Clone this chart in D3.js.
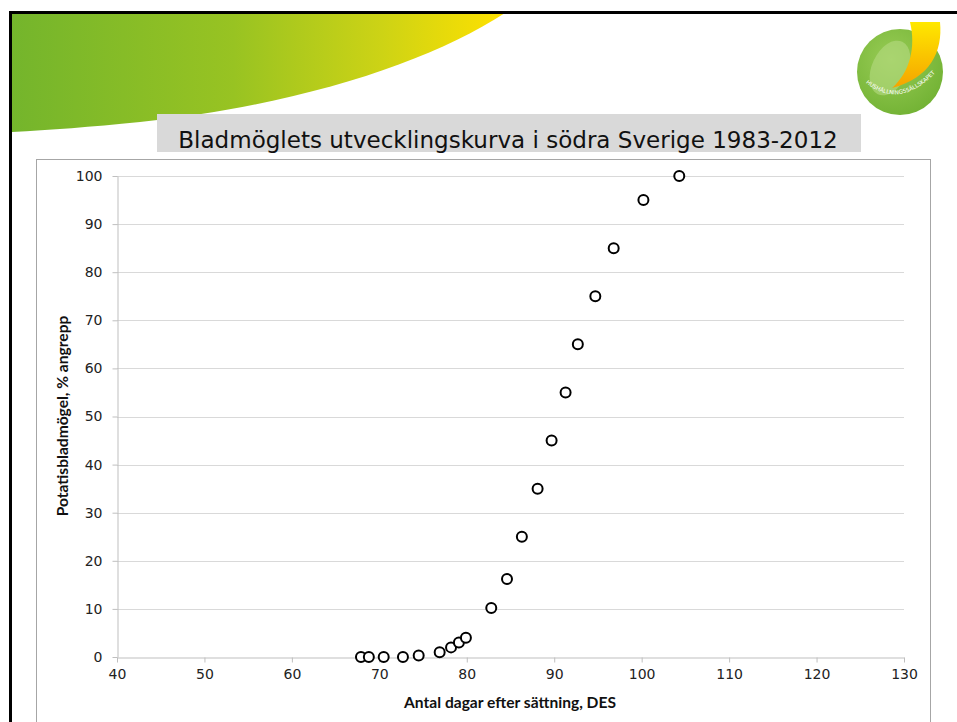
<!DOCTYPE html>
<html>
<head>
<meta charset="utf-8">
<script src="https://cdn.jsdelivr.net/npm/d3@7"></script>
<style>
  html, body { margin: 0; padding: 0; background: #fff; }
  svg { display: block; }
</style>
</head>
<body>
<script>
// ---- data ----
const chartTitle = "Bladmöglets utvecklingskurva i södra Sverige 1983-2012";
const xTitle = "Antal dagar efter sättning, DES";
const yTitle = "Potatisbladmögel, % angrepp";
const daysAfterPlanting = [67.9, 68.8, 70.5, 72.7, 74.5, 76.9, 78.2, 79.1, 79.9, 82.8, 84.6, 86.3, 88.1, 89.7, 91.3, 92.7, 94.7, 96.8, 100.2, 104.3];
const attackPercent =     [0,    0,    0,    0,    0.3,  1,    2,    3,    4,    10.2, 16.2, 25,   35,   45,   55,   65,   75,   85,   95,   100];
const xTicks = [40, 50, 60, 70, 80, 90, 100, 110, 120, 130];
const yTicks = [0, 10, 20, 30, 40, 50, 60, 70, 80, 90, 100];
const logoText = "HUSHÅLLNINGSSÄLLSKAPET";

const W = 957, H = 722;
const svg = d3.select("body").append("svg").attr("width", W).attr("height", H);
const defs = svg.append("defs");

// ---- slide decoration ----
const g1 = defs.append("linearGradient").attr("id", "swoosh").attr("x1", "0%").attr("x2", "100%").attr("y1", "0%").attr("y2", "0%");
g1.append("stop").attr("offset", "0%").attr("stop-color", "#74b52c");
g1.append("stop").attr("offset", "45%").attr("stop-color", "#98c322");
g1.append("stop").attr("offset", "75%").attr("stop-color", "#cdd315");
g1.append("stop").attr("offset", "100%").attr("stop-color", "#ffe100");

svg.append("path")
  .attr("d", "M12,13 L505,13 C430,62 300,105 140,122 C90,127 50,130 12,132 Z")
  .attr("fill", "url(#swoosh)");

// black frame
svg.append("line").attr("x1", 9).attr("x2", W).attr("y1", 12.5).attr("y2", 12.5).attr("stroke", "#000").attr("stroke-width", 3);
svg.append("line").attr("x1", 10.5).attr("x2", 10.5).attr("y1", 11).attr("y2", H).attr("stroke", "#000").attr("stroke-width", 3);

// logo
const lg = defs.append("radialGradient").attr("id", "logoG").attr("cx", "40%").attr("cy", "35%").attr("r", "70%");
lg.append("stop").attr("offset", "0%").attr("stop-color", "#98cc55");
lg.append("stop").attr("offset", "100%").attr("stop-color", "#72b234");
const yl = defs.append("linearGradient").attr("id", "logoY").attr("x1", "0%").attr("x2", "0%").attr("y1", "0%").attr("y2", "100%");
yl.append("stop").attr("offset", "0%").attr("stop-color", "#ffe800");
yl.append("stop").attr("offset", "100%").attr("stop-color", "#f5a300");
const logo = svg.append("g").attr("transform", "translate(900,72)");
logo.append("circle").attr("r", 43).attr("fill", "url(#logoG)");
logo.append("ellipse").attr("cx", -10).attr("cy", -4).attr("rx", 18).attr("ry", 29)
  .attr("transform", "rotate(25,-10,-4)").attr("fill", "#b6db82").attr("opacity", 0.6);
logo.append("path")
  .attr("d", "M10,-50 L40,-50 C43,-20 30,6 -8,16 C10,0 16,-25 10,-50 Z")
  .attr("fill", "url(#logoY)");
defs.append("path").attr("id", "logoArc").attr("d", "M-35,10 Q0,40 39,-3");
logo.append("text").attr("font-family", "DejaVu Sans").attr("font-size", 5.6).attr("fill", "#fff")
  .append("textPath").attr("href", "#logoArc").attr("startOffset", "1%").text(logoText);

// title bar
svg.append("rect").attr("x", 157).attr("y", 114).attr("width", 704).attr("height", 38).attr("fill", "#d9d9d9");
const titleT = svg.append("text").attr("x", 508).attr("y", 141)
  .attr("text-anchor", "middle").attr("dominant-baseline", "middle")
  .attr("font-family", "DejaVu Sans").attr("font-size", 22).attr("fill", "#111").text(chartTitle);
{
  const w = titleT.node().getComputedTextLength();
  titleT.attr("font-size", 22 * 660 / w);
}

// chart border
svg.append("rect").attr("x", 36.5).attr("y", 159.5).attr("width", 894).attr("height", 600)
  .attr("fill", "none").attr("stroke", "#a6a6a6").attr("stroke-width", 1);

// ---- chart ----
const x = d3.scaleLinear().domain([40, 130]).range([117, 904]);
const y = d3.scaleLinear().domain([0, 100]).range([657, 176]);

// gridlines
svg.append("g").selectAll("line").data(yTicks.filter(d => d > 0)).join("line")
  .attr("x1", x(40)).attr("x2", x(130))
  .attr("y1", d => Math.round(y(d)) + 0.5).attr("y2", d => Math.round(y(d)) + 0.5)
  .attr("stroke", "#d9d9d9").attr("stroke-width", 1);

// x axis
const xAxis = svg.append("g").attr("transform", `translate(0,${Math.round(y(0)) + 0.5})`)
  .call(d3.axisBottom(x).tickValues(xTicks).tickSize(5).tickPadding(7).tickSizeOuter(0));
// y axis
const yAxis = svg.append("g").attr("transform", `translate(${Math.round(x(40)) + 0.5},0)`)
  .call(d3.axisLeft(y).tickValues(yTicks).tickSize(5).tickPadding(10).tickSizeOuter(0));
[xAxis, yAxis].forEach(a => {
  a.select(".domain").attr("stroke", "#bfbfbf");
  a.selectAll(".tick line").attr("stroke", "#bfbfbf");
  a.selectAll(".tick text").attr("font-family", "DejaVu Sans").attr("font-size", 14).attr("fill", "#222");
});

// axis titles
const xt = svg.append("text").attr("x", 510).attr("y", 708).attr("text-anchor", "middle")
  .attr("font-family", "Lato").attr("font-weight", "bold").attr("font-size", 14).attr("fill", "#111").text(xTitle);
const xw = xt.node().getComputedTextLength();
const titleSize = 14 * 212 / xw;
xt.attr("font-size", titleSize);
svg.append("text").attr("transform", "translate(68,416) rotate(-90)").attr("text-anchor", "middle")
  .attr("font-family", "Lato").attr("font-weight", "bold").attr("font-size", titleSize).attr("fill", "#111").text(yTitle);

// points
svg.append("g").selectAll("circle").data(daysAfterPlanting.map((d, i) => [d, attackPercent[i]])).join("circle")
  .attr("cx", d => x(d[0])).attr("cy", d => y(d[1])).attr("r", 5)
  .attr("fill", "#fff").attr("stroke", "#000").attr("stroke-width", 2);
</script>
</body>
</html>
